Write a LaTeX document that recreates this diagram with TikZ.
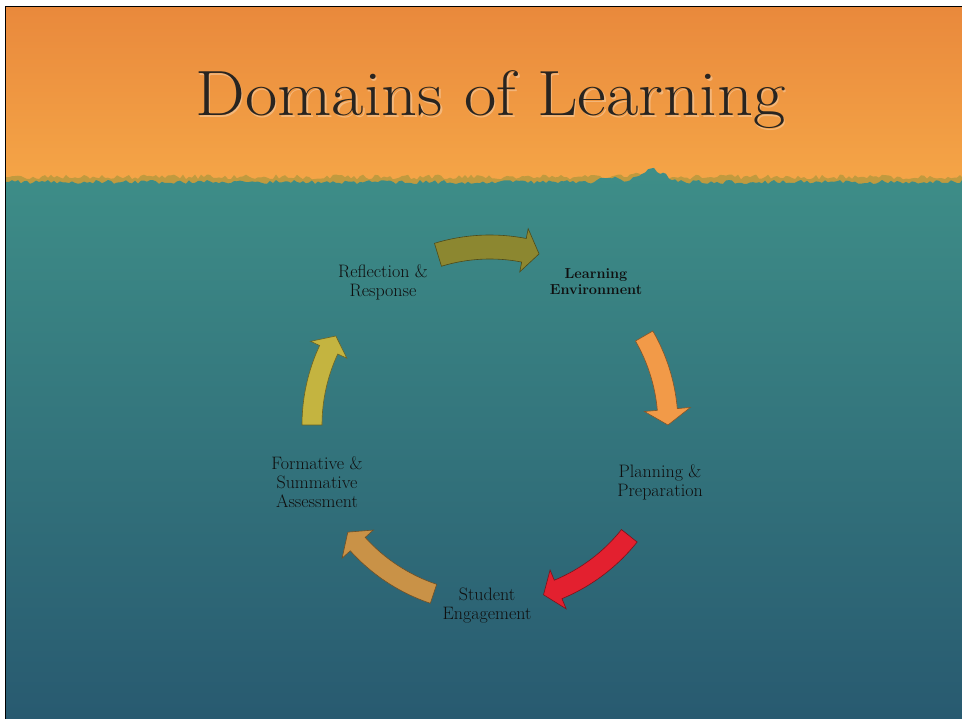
\documentclass[tikz,border=0pt]{standalone}
\usetikzlibrary{calc}
\definecolor{orTop}{RGB}{233,137,60}
\definecolor{orBot}{RGB}{246,168,72}
\definecolor{tealTop}{RGB}{62,142,136}
\definecolor{tealMid}{RGB}{51,118,127}
\definecolor{tealBot}{RGB}{40,90,112}
\definecolor{fringe}{RGB}{170,150,60}
\definecolor{arOlive}{RGB}{140,135,48}
\definecolor{arOrange}{RGB}{242,154,72}
\definecolor{arRed}{RGB}{227,32,47}
\definecolor{arTan}{RGB}{201,146,71}
\definecolor{arYellow}{RGB}{196,180,64}
\definecolor{ink}{RGB}{15,15,15}
\definecolor{titleink}{RGB}{40,36,32}
\newcommand\cyclearrow[6]{%
  \fill[#1, draw=black!45!#1, line width=0.6pt]
   ({#2}:{178+#5}) arc[start angle={#2}, end angle={#3}, radius={178+#5}]
   -- ({#3}:{178+#6}) -- ({#4}:178) -- ({#3}:{178-#6}) -- ({#3}:{178-#5})
   arc[start angle={#3}, end angle={#2}, radius={178-#5}] -- cycle;}
\tikzset{
  lbl/.style={text=ink, align=center, inner sep=0pt, font=\fontsize{18}{19}\selectfont},
  lblb/.style={text=ink, align=center, inner sep=0pt, font=\bfseries\fontsize{14.5}{16}\selectfont},
  ttl/.style={anchor=base, inner sep=0pt, font=\fontsize{64}{70}\selectfont}
}
\begin{document}
\begin{tikzpicture}[x=1pt,y=-1pt]
\useasboundingbox (0,0) rectangle (962,719);
\fill[white] (0,0) rectangle (962,719);
% orange band
\shade[top color=orTop, bottom color=orBot] (6,7) rectangle (962,200);
% ragged fringe
\pgfmathsetseed{11}
\fill[fringe, opacity=0.7] (6,200) -- (6,177)
  \foreach \x in {9,12,...,960} { -- (\x,{177+2.5*rand-4*max(0,1-abs(\x-645)/25)}) }
  -- (962,177) -- (962,200) -- cycle;
% teal body
\pgfmathsetseed{5}
\shade[top color=tealTop, middle color=tealMid, bottom color=tealBot]
  (6,719) -- (6,182)
  \foreach \x in {9,12,...,960} { -- (\x,{182+2*rand-13*max(0,1-abs(\x-652)/28)-6*max(0,1-abs(\x-608)/18)}) }
  -- (962,180) -- (962,719) -- cycle;
% scan frame
\draw[black, line width=1.5pt] (5.5,719) -- (5.5,6.5) -- (962,6.5);
% title
\node[ttl, text=white, opacity=0.3] (titleglow) at (492,117.5) {\scalebox{1.1}[1]{Domains of Learning}};
\node[ttl, text=titleink] (title) at (490.5,116) {\scalebox{1.1}[1]{Domains of Learning}};
% cycle arrows
\begin{scope}[shift={(490,425)}, yscale=-1]
\cyclearrow{arOlive}{107}{79}{74}{12}{22}
\cyclearrow{arOrange}{30}{5}{0}{10}{23}
\cyclearrow{arRed}{-38.5}{-67.5}{-72.5}{10}{21}
\cyclearrow{arTan}{-108.5}{-138}{-143}{10}{21}
\cyclearrow{arYellow}{180}{155}{150}{10}{20}
\end{scope}
% labels
\node[lbl] (refl) at (383,282) {Reflection \&\\Response};
\node[lblb] (learn) at (596,282) {Learning\\Environment};
\node[lbl] (plan) at (660,482) {Planning \&\\Preparation};
\node[lbl] (stud) at (487,606) {Student\\Engagement};
\node[lbl] (form) at (317,482) {Formative \&\\Summative\\Assessment};
\end{tikzpicture}
\end{document}
